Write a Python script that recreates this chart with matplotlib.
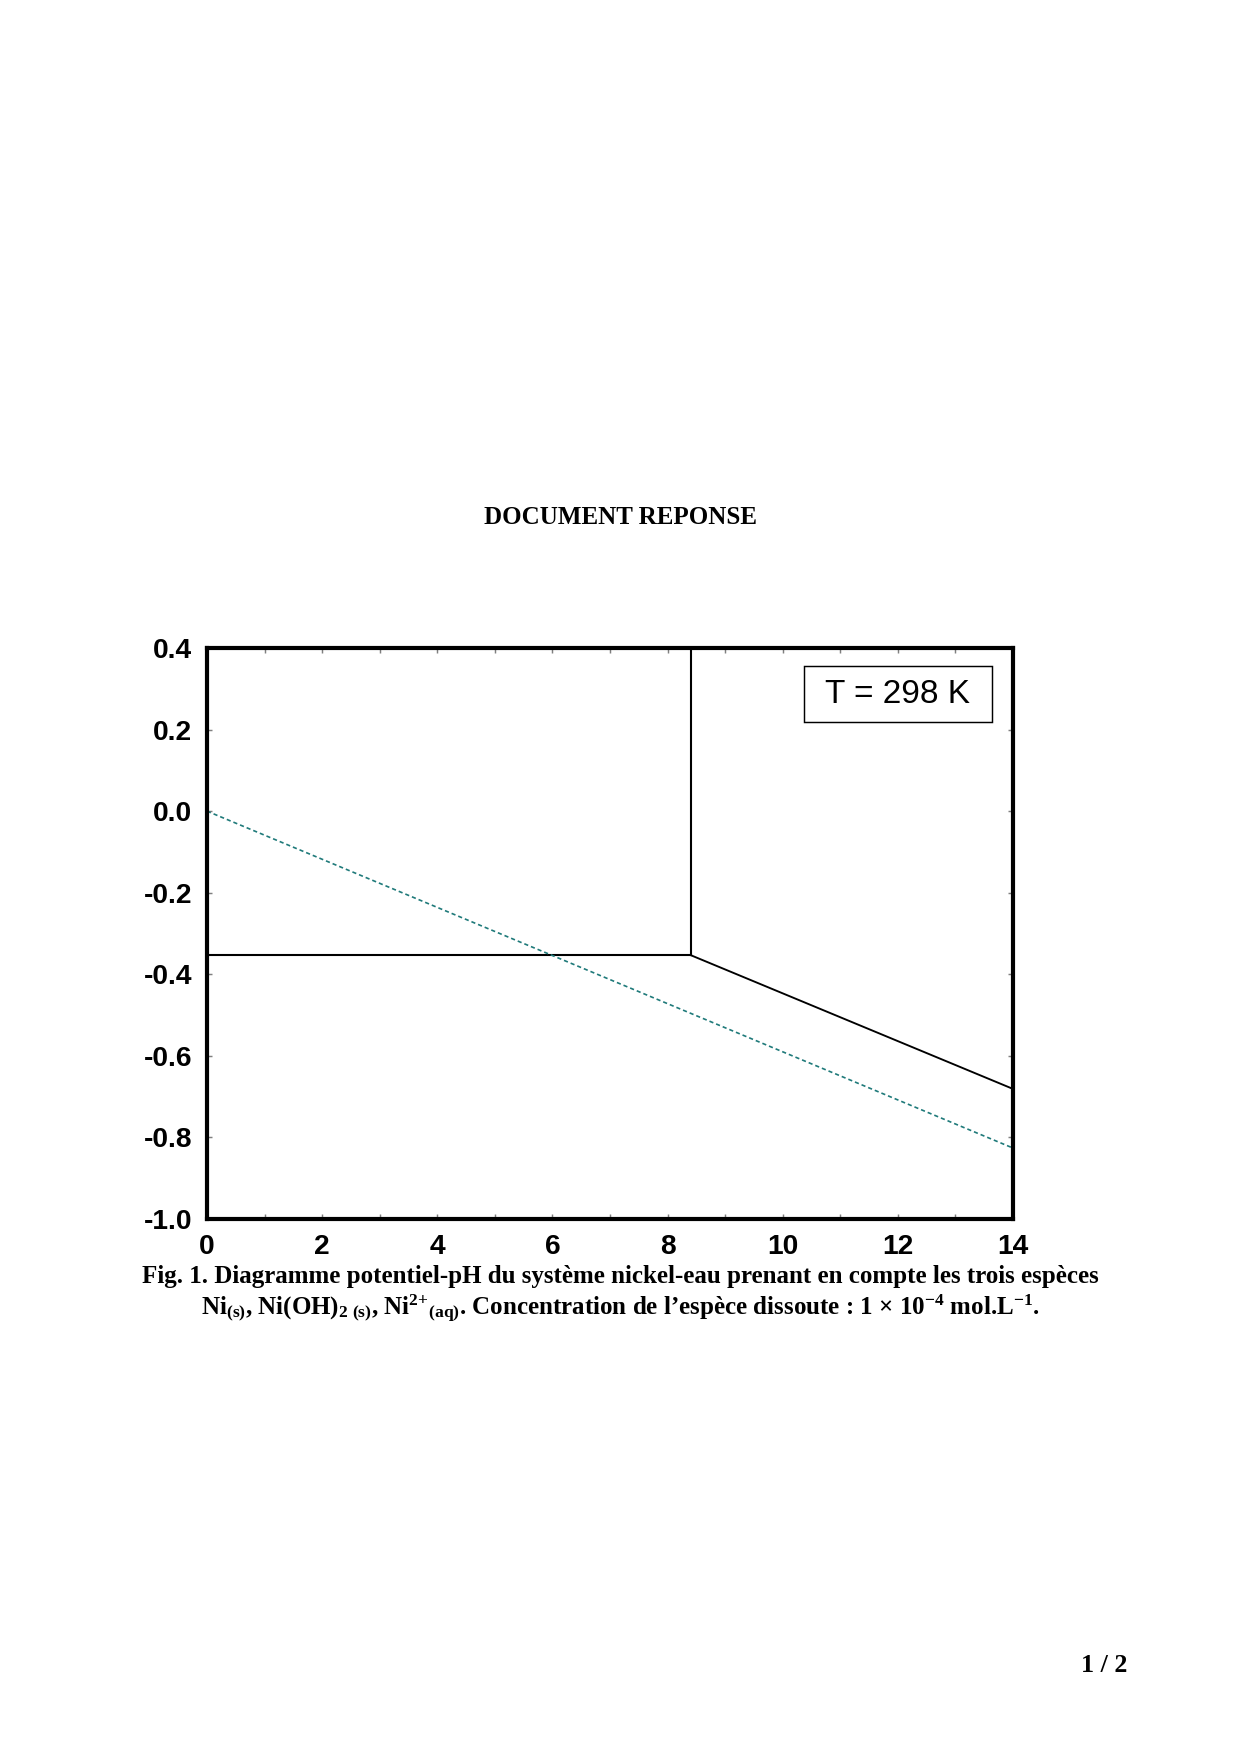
import matplotlib
matplotlib.use('Agg')
import matplotlib.pyplot as plt
import numpy as np
from matplotlib.patches import Rectangle

# datas (potentiel en V, pH)
ph_frontiere = 8.4           # Ni2+ / Ni(OH)2
e_ni = -0.353                # Ni2+ / Ni
ph_lim = [0, 14]
e_lim = [-1.0, 0.4]
ph_pente = [8.4, 14.0]
e_pente = [-0.353, -0.681]   # Ni(OH)2 / Ni
ph_eau = [0.0, 14.0]
e_eau = [0.0, -0.826]        # H+ / H2
x_ticks = [0, 2, 4, 6, 8, 10, 12, 14]
y_ticks = [-1.0, -0.8, -0.6, -0.4, -0.2, 0.0, 0.2, 0.4]

plt.rcParams['mathtext.fontset'] = 'custom'
plt.rcParams['mathtext.rm'] = 'Liberation Serif:bold'
plt.rcParams['mathtext.it'] = 'Liberation Serif:bold'
plt.rcParams['mathtext.bf'] = 'Liberation Serif:bold'

fig = plt.figure(figsize=(1240 / 150, 1754 / 150), dpi=150, facecolor='white')
ax = fig.add_axes([0.1669, 0.3050, 0.6500, 0.3256])

# frontieres
ax.plot([ph_lim[0], ph_frontiere], [e_ni, e_ni], color='black', lw=1.0)
ax.plot([ph_frontiere, ph_frontiere], [e_ni, e_lim[1]], color='black', lw=1.0)
ax.plot(ph_pente, e_pente, color='black', lw=0.9)
ax.plot(ph_eau, e_eau, color='#1f7a7a', lw=0.8, linestyle=(0, (2.5, 1.8)))

ax.set_xlim(ph_lim)
ax.set_ylim(e_lim)
ax.set_xticks(x_ticks)
ax.set_xticks(np.arange(1, 14, 2), minor=True)
ax.set_yticks(y_ticks)
ax.set_xticklabels([str(t) for t in x_ticks])
ax.set_yticklabels(['%.1f' % t for t in y_ticks])

for s in ax.spines.values():
    s.set_linewidth(2.0)
ax.tick_params(which='both', direction='in', top=True, right=True,
               length=2.5, width=0.7, color='#808080', pad=7.0)
for lab in ax.get_xticklabels() + ax.get_yticklabels():
    lab.set_fontfamily('Liberation Sans')
    lab.set_fontweight('bold')
    lab.set_fontsize(13.5)

# cartouche temperature
ax.add_patch(Rectangle((0.7407, 0.8704), 0.2333, 0.0981, transform=ax.transAxes,
                       facecolor='white', edgecolor='black', lw=0.7, zorder=5))
ax.text(0.857, 0.919, 'T = 298 K', transform=ax.transAxes, ha='center', va='center',
        fontfamily='Liberation Sans', fontsize=16, zorder=6)

# textes de la page
fig.text(0.5, 1 - 518 / 1754, 'DOCUMENT REPONSE', ha='center', va='center',
         fontfamily='Liberation Serif', fontweight='bold', fontsize=12)
fig.text(0.5, 1 - 1277 / 1754,
         'Fig. 1. Diagramme potentiel-pH du système nickel-eau prenant en compte les trois espèces',
         ha='center', va='center', fontfamily='Liberation Serif', fontweight='bold', fontsize=12)
fig.text(0.5, 1 - 1308 / 1754,
         r'Ni$_{\rm (s)}$, Ni(OH)$_{\rm 2\ (s)}$, Ni$^{\text{2+}}{}_{\rm (aq)}$. Concentration de l’espèce dissoute : '
         r'1 × 10$^{-4}$ mol.L$^{-1}$.',
         ha='center', va='center', fontfamily='Liberation Serif', fontweight='bold', fontsize=12)
fig.text(1104 / 1240, 1 - 1665 / 1754, '1 / 2', ha='center', va='center',
         fontfamily='Liberation Serif', fontweight='bold', fontsize=12.5)

fig.savefig('out.png', dpi=150, facecolor='white')
